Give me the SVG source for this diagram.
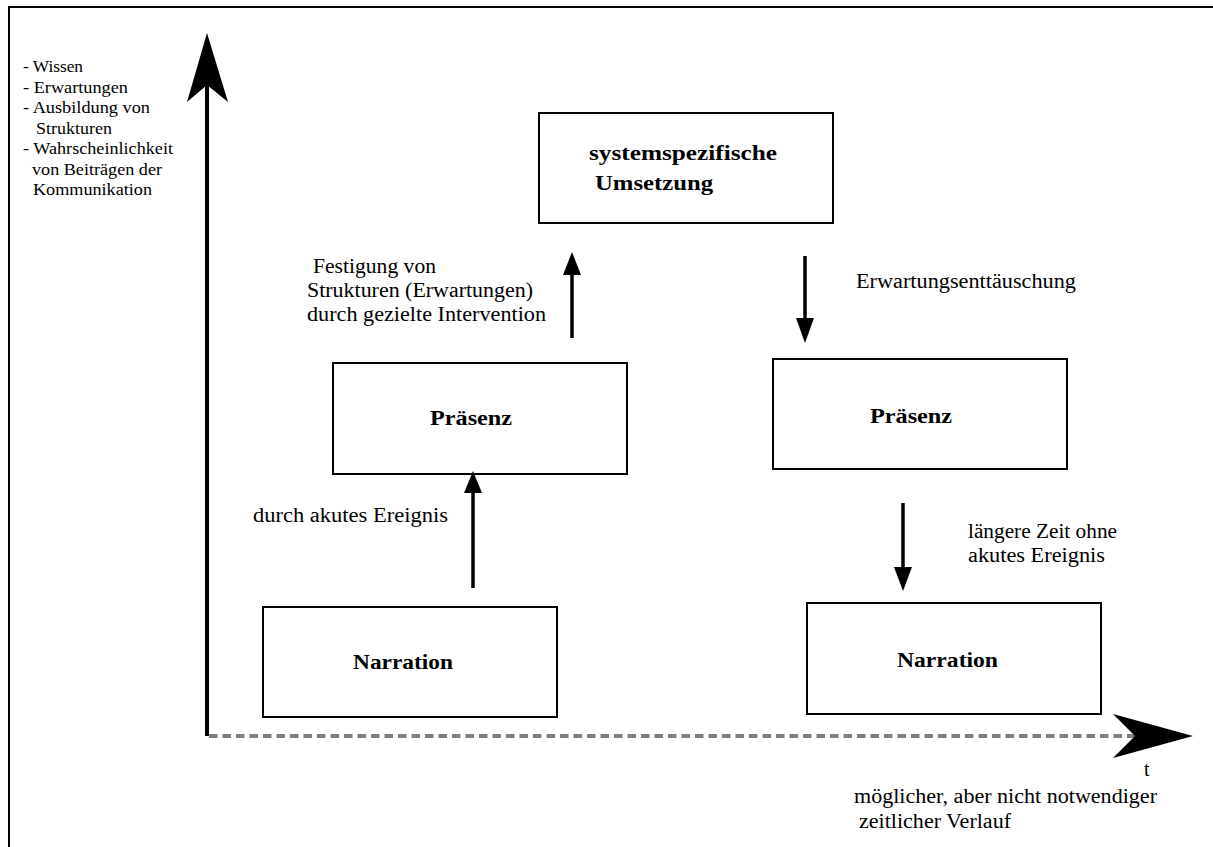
<svg xmlns="http://www.w3.org/2000/svg" width="1213" height="847" viewBox="0 0 1213 847">
  <style>
    .box { fill: #ffffff; stroke: #000000; stroke-width: 2; }
    .lbl { font-family: "Liberation Serif", "Times New Roman", serif; font-size: 20px; fill: #000000; }
    .small { font-family: "Liberation Serif", "Times New Roman", serif; font-size: 17px; fill: #000000; }
    .title { font-family: "Liberation Serif", "Times New Roman", serif; font-size: 22px; font-weight: bold; fill: #000000; }
    .step { stroke: #000000; stroke-width: 3.5; fill: none; }
    .head { fill: #000000; stroke: none; }
  </style>

  <rect x="0" y="0" width="1213" height="847" fill="#ffffff"/>

  <!-- page frame (top and left edges) -->
  <g id="frame" stroke="#000000" stroke-width="2" fill="none">
    <line x1="9" y1="7" x2="1213" y2="7"/>
    <line x1="9" y1="6" x2="9" y2="847"/>
  </g>

  <!-- axes -->
  <g id="axes">
    <line x1="207" y1="736" x2="207" y2="80" stroke="#000000" stroke-width="4"/>
    <polygon class="head" points="207,33 228,102 207,85 187,102"/>
    <line x1="209" y1="736" x2="1138" y2="736" stroke="#7f7f7f" stroke-width="4" stroke-dasharray="8.5 5"/>
    <polygon class="head" points="1193,736 1113,714 1135,736 1113,758"/>
  </g>

  <!-- y-axis legend -->
  <g id="axis-legend" class="small">
    <text x="23" y="72" textLength="60" lengthAdjust="spacingAndGlyphs">- Wissen</text>
    <text x="23" y="92.5" textLength="105" lengthAdjust="spacingAndGlyphs">- Erwartungen</text>
    <text x="23" y="113" textLength="127" lengthAdjust="spacingAndGlyphs">- Ausbildung von</text>
    <text x="36" y="133.5" textLength="76" lengthAdjust="spacingAndGlyphs">Strukturen</text>
    <text x="23" y="154" textLength="150" lengthAdjust="spacingAndGlyphs">- Wahrscheinlichkeit</text>
    <text x="32" y="174.5" textLength="130" lengthAdjust="spacingAndGlyphs">von Beiträgen der</text>
    <text x="33" y="195" textLength="119" lengthAdjust="spacingAndGlyphs">Kommunikation</text>
  </g>

  <!-- nodes -->
  <g id="node-umsetzung">
    <rect class="box" x="539" y="113" width="294" height="110"/>
    <text class="title" x="589" y="160" textLength="188" lengthAdjust="spacingAndGlyphs">systemspezifische</text>
    <text class="title" x="595" y="190" textLength="118" lengthAdjust="spacingAndGlyphs">Umsetzung</text>
  </g>
  <g id="node-praesenz-1">
    <rect class="box" x="333" y="363" width="294" height="111"/>
    <text class="title" x="430" y="425" textLength="82" lengthAdjust="spacingAndGlyphs">Präsenz</text>
  </g>
  <g id="node-praesenz-2">
    <rect class="box" x="773" y="359" width="294" height="110"/>
    <text class="title" x="870" y="423" textLength="82" lengthAdjust="spacingAndGlyphs">Präsenz</text>
  </g>
  <g id="node-narration-1">
    <rect class="box" x="263" y="607" width="294" height="110"/>
    <text class="title" x="353" y="669" textLength="100" lengthAdjust="spacingAndGlyphs">Narration</text>
  </g>
  <g id="node-narration-2">
    <rect class="box" x="807" y="603" width="294" height="111"/>
    <text class="title" x="897" y="667" textLength="101" lengthAdjust="spacingAndGlyphs">Narration</text>
  </g>

  <!-- transitions -->
  <g id="connectors">
    <line class="step" x1="473" y1="588" x2="473" y2="490"/>
    <polygon class="head" points="473,471 482,493 464,493"/>
    <line class="step" x1="572" y1="338" x2="572" y2="272"/>
    <polygon class="head" points="572,252 581,275 563,275"/>
    <line class="step" x1="805" y1="256" x2="805" y2="322"/>
    <polygon class="head" points="805,343 814,318 796,318"/>
    <line class="step" x1="903" y1="503" x2="903" y2="570"/>
    <polygon class="head" points="903,591 912,567 894,567"/>
  </g>

  <!-- transition labels -->
  <g id="labels" class="lbl">
    <text x="313" y="273" textLength="123" lengthAdjust="spacingAndGlyphs">Festigung von</text>
    <text x="307" y="297" textLength="226" lengthAdjust="spacingAndGlyphs">Strukturen (Erwartungen)</text>
    <text x="307" y="321" textLength="239" lengthAdjust="spacingAndGlyphs">durch gezielte Intervention</text>
    <text x="253" y="522" textLength="195" lengthAdjust="spacingAndGlyphs">durch akutes Ereignis</text>
    <text x="856" y="288" textLength="220" lengthAdjust="spacingAndGlyphs">Erwartungsenttäuschung</text>
    <text x="968" y="538" textLength="149" lengthAdjust="spacingAndGlyphs">längere Zeit ohne</text>
    <text x="968" y="562" textLength="137" lengthAdjust="spacingAndGlyphs">akutes Ereignis</text>
    <text x="1144" y="776">t</text>
    <text x="854" y="803" textLength="303" lengthAdjust="spacingAndGlyphs">möglicher, aber nicht notwendiger</text>
    <text x="859" y="828" textLength="152" lengthAdjust="spacingAndGlyphs">zeitlicher Verlauf</text>
  </g>
</svg>
